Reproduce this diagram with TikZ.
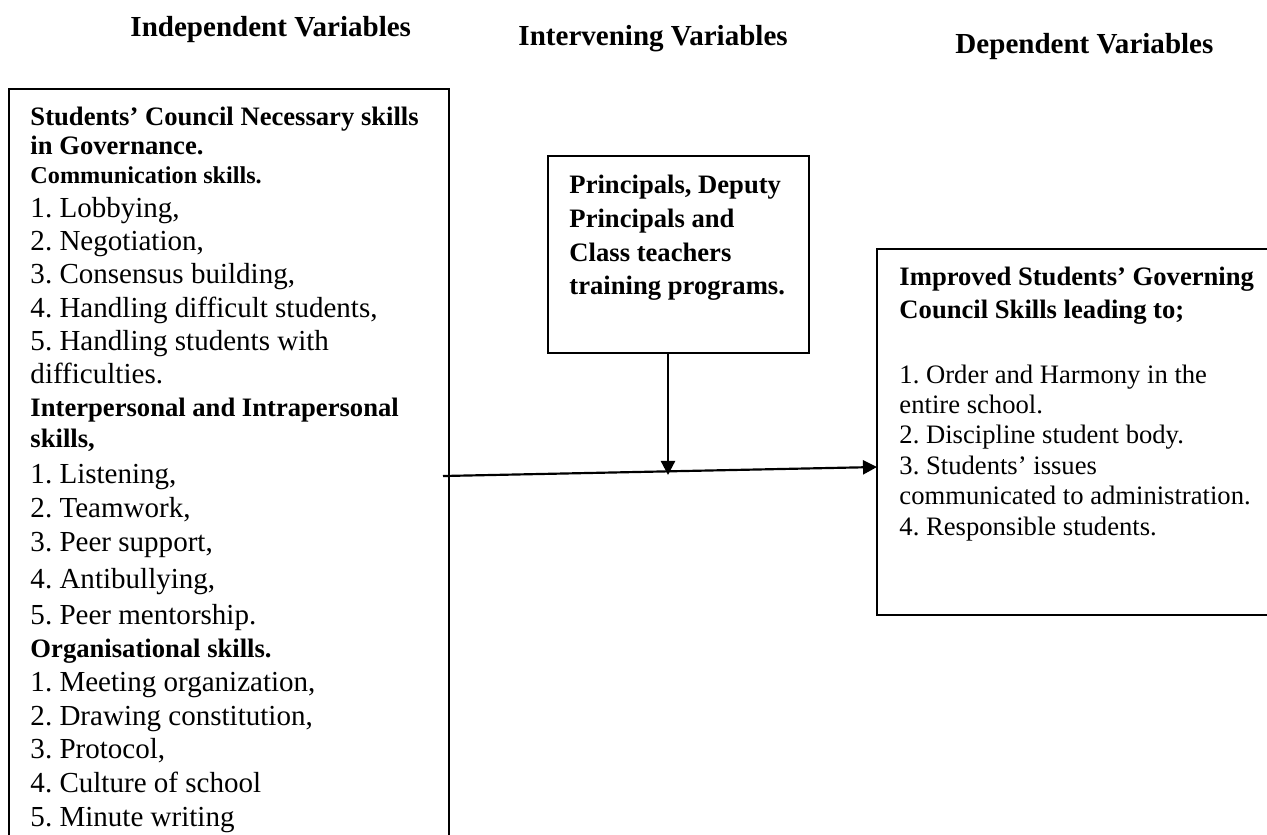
\documentclass[tikz,border=0pt]{standalone}
\usepackage{fontspec}
\setmainfont{Liberation Serif}
\usetikzlibrary{arrows.meta,fit}
\frenchspacing
\begin{document}
\begin{tikzpicture}[x=0.4132pt,y=-0.4132pt,
  box/.style={draw,line width=0.6pt,inner sep=0pt},
  txt/.style={anchor=base west,inner sep=0pt},
  colhead/.style={txt,font=\fontsize{12}{14}\selectfont\bfseries},
  bhd/.style={txt,font=\fontsize{11}{13}\selectfont\bfseries},
  bsub/.style={txt,font=\fontsize{10}{12}\selectfont\bfseries},
  litem/.style={txt,font=\fontsize{12}{14}\selectfont},
  ritem/.style={txt,font=\fontsize{11}{13}\selectfont},
  conn/.style={line width=0.9pt,-{Triangle[length=5.8pt,width=5.8pt]}}]
\useasboundingbox (0,0) rectangle (1267,834);
\clip (0,0) rectangle (1267,834);

% column headings
\node[colhead] (hindep) at (130,36) {Independent Variables};
\node[colhead] (hinter) at (518,45) {Intervening Variables};
\node[colhead] (hdep)   at (955,53) {Dependent Variables};

% boxes (the left one runs off the bottom, the right one off the right edge)
\node[box,fit={(9,89) (449,900)}] (indep) {};
\node[box,fit={(548,156) (809,353)}] (inter) {};
\node[box,fit={(877,249) (1320,615)}] (dep) {};

% independent variables
\node[bhd]   (i1)  at (30,125) {Students’ Council Necessary skills};
\node[bhd]   (i2)  at (30,154) {in Governance.};
\node[bsub]  (i3)  at (30,183) {Communication skills.};
\node[litem] (i4)  at (30,217) {1. Lobbying,};
\node[litem] (i5)  at (30,250) {2. Negotiation,};
\node[litem] (i6)  at (30,283) {3. Consensus building,};
\node[litem] (i7)  at (30,317) {4. Handling difficult students,};
\node[litem] (i8)  at (30,350) {5. Handling students with};
\node[litem] (i9)  at (30,383) {difficulties.};
\node[bhd]   (i10) at (30,416) {Interpersonal and Intrapersonal};
\node[bhd]   (i11) at (30,447) {skills,};
\node[litem] (i12) at (30,483) {1. Listening,};
\node[litem] (i13) at (30,517) {2. Teamwork,};
\node[litem] (i14) at (30,551) {3. Peer support,};
\node[litem] (i15) at (30,588) {4. Antibullying,};
\node[litem] (i16) at (30,624) {5. Peer mentorship.};
\node[bhd]   (i17) at (30,657) {Organisational skills.};
\node[litem] (i18) at (30,691) {1. Meeting organization,};
\node[litem] (i19) at (30,725) {2. Drawing constitution,};
\node[litem] (i20) at (30,758) {3. Protocol,};
\node[litem] (i21) at (30,792) {4. Culture of school};
\node[litem] (i22) at (30,826) {5. Minute writing};

% intervening variables
\node[bhd] (m1) at (569,193) {Principals, Deputy};
\node[bhd] (m2) at (569,227) {Principals and};
\node[bhd] (m3) at (569,261) {Class teachers};
\node[bhd] (m4) at (569,294) {training programs.};

% dependent variables
\node[bhd]   (d1) at (899,285) {Improved Students’ Governing};
\node[bhd]   (d2) at (899,318) {Council Skills leading to;};
\node[ritem] (d3) at (899,383) {1. Order and Harmony in the};
\node[ritem] (d4) at (899,413) {entire school.};
\node[ritem] (d5) at (899,443) {2. Discipline student body.};
\node[ritem] (d6) at (899,474) {3. Students’ issues};
\node[ritem] (d7) at (899,504) {communicated to administration.};
\node[ritem] (d8) at (899,535) {4. Responsible students.};

% connectors
\coordinate (lout) at (443,476);
\coordinate (rin)  at (877,467);
\coordinate (join) at (668,475);
\draw[conn] (lout) -- (rin);
\draw[conn] (inter.south -| join) -- (join);
\end{tikzpicture}
\end{document}
